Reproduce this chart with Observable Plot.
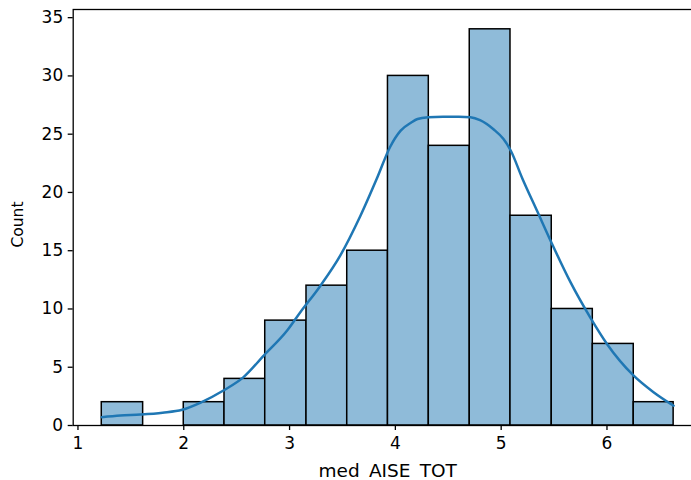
<!DOCTYPE html>
<html><head><meta charset="utf-8">
<script src="https://cdn.jsdelivr.net/npm/d3@7"></script>
<script src="https://cdn.jsdelivr.net/npm/@observablehq/plot@0.6"></script>
<style>html,body{margin:0;padding:0;overflow:hidden;background:#fff;width:691px;height:480px}</style>
</head><body><div id="chart"></div>
<script>
const binEdges = [1.225, 1.616, 2.0, 2.385, 2.77, 3.16, 3.545, 3.93, 4.316, 4.703, 5.088, 5.478, 5.866, 6.253, 6.63];
const counts = [2, 0, 2, 4, 9, 12, 15, 30, 24, 34, 18, 10, 7, 2];
const kdeX = [1.225, 1.40, 1.59, 1.80, 1.985, 2.16, 2.375, 2.565, 2.756, 2.977, 3.10, 3.292, 3.48, 3.67, 3.83, 3.95, 4.05, 4.15, 4.21, 4.31, 4.45, 4.60, 4.71, 4.80, 4.93, 5.02, 5.09, 5.20, 5.34, 5.48, 5.655, 5.84, 6.0, 6.25, 6.44, 6.63];
const kdeY = [0.71, 0.85, 0.94, 1.1, 1.35, 1.97, 3.0, 4.15, 6.0, 8.15, 9.7, 12.0, 14.6, 18.0, 21.3, 23.9, 25.3, 26.0, 26.3, 26.45, 26.5, 26.5, 26.45, 26.2, 25.4, 24.6, 23.6, 21.2, 18.4, 15.6, 12.3, 9.3, 7.0, 4.3, 2.86, 1.7];
const xTicks = [1, 2, 3, 4, 5, 6];
const yTicks = [0, 5, 10, 15, 20, 25, 30, 35];
const xLabel = "med\u2002AISE\u2002TOT";
const yLabel = "Count";

const bins = counts.map((c, i) => ({x1: binEdges[i], x2: binEdges[i + 1], count: c}));
const kde = kdeX.map((x, i) => ({x, y: kdeY[i]}));

const chart = Plot.plot({
  width: 720, height: 480,
  marginLeft: 72.7, marginRight: 18.3, marginTop: 9, marginBottom: 55,
  style: {fontFamily: "DejaVu Sans", fontSize: "17px", color: "#000", background: "#fff", maxWidth: "none", overflow: "visible"},
  x: {domain: [0.955, 6.9]},
  y: {domain: [0, 35.7]},
  marks: [
    Plot.rectY(bins, {x1: "x1", x2: "x2", y: "count", fill: "#8fbbd9", stroke: "#000", strokeWidth: 1.5, inset: 0}),
    Plot.line(kde, {x: "x", y: "y", stroke: "#1f77b4", strokeWidth: 2.5, curve: "monotone-x"}),
    Plot.frame({stroke: "#000", strokeWidth: 1.3}),
    Plot.axisX({ticks: xTicks, tickFormat: "d", tickSize: 5, tickPadding: 6, label: null, fontSize: 17, stroke: "#000", strokeWidth: 1.3}),
    Plot.axisY({ticks: yTicks, tickFormat: "d", tickSize: 5, tickPadding: 5, label: null, fontSize: 17, stroke: "#000", strokeWidth: 1.3}),
    Plot.text([xLabel], {text: d => d, frameAnchor: "bottom", lineAnchor: "middle", textAnchor: "middle", dy: 46, fontSize: 18.5}),
    Plot.text([yLabel], {text: d => d, frameAnchor: "left", lineAnchor: "middle", textAnchor: "middle", rotate: -90, dx: -55, dy: 7, fontSize: 15.5})
  ]
});
document.getElementById("chart").appendChild(chart);
</script>
</body></html>
